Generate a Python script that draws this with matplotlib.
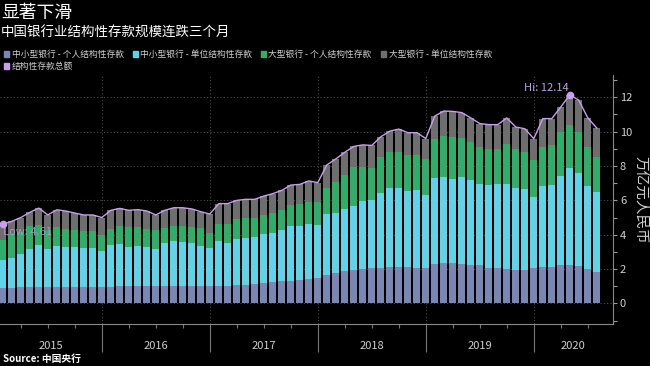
import numpy as np
import pandas as pd
import matplotlib
matplotlib.use('Agg')
import matplotlib.pyplot as plt
from matplotlib.patches import Rectangle
from matplotlib.ticker import FixedLocator
import matplotlib.transforms as mtransforms

plt.rcParams['font.family'] = ['Noto Sans CJK SC', 'DejaVu Sans']

# ---------------- data ----------------
months = pd.date_range('2015-01-31', periods=67, freq='ME')

small_personal = [
    0.90, 0.92, 0.95, 0.95, 0.96, 0.96, 0.97, 0.97, 0.98, 0.98, 0.98, 0.98,
    0.98, 0.99, 0.99, 1.00, 1.00, 1.00, 1.00, 1.00, 1.00, 1.00, 1.00, 1.00,
    1.00, 1.02, 1.05, 1.10, 1.15, 1.20, 1.24, 1.28, 1.32, 1.36, 1.40, 1.45,
    1.63, 1.75, 1.88, 1.94, 1.98, 2.04, 2.08, 2.12, 2.12, 2.12, 2.08, 2.06,
    2.27, 2.35, 2.35, 2.29, 2.21, 2.21, 2.08, 2.06, 2.02, 1.96, 1.96, 2.04,
    2.12, 2.12, 2.21, 2.25, 2.17, 2.02, 1.83]
small_corporate = [
    1.60, 1.74, 1.94, 2.23, 2.42, 2.22, 2.35, 2.31, 2.30, 2.26, 2.26, 2.05,
    2.44, 2.45, 2.29, 2.32, 2.28, 2.18, 2.51, 2.63, 2.60, 2.49, 2.37, 2.25,
    2.63, 2.51, 2.68, 2.73, 2.71, 2.82, 2.88, 2.99, 3.18, 3.14, 3.20, 3.11,
    3.55, 3.53, 3.59, 3.76, 4.00, 3.96, 4.32, 4.61, 4.59, 4.45, 4.52, 4.23,
    5.03, 4.99, 4.91, 5.05, 4.99, 4.76, 4.83, 4.91, 4.93, 4.78, 4.72, 4.13,
    4.70, 4.75, 5.21, 5.63, 5.44, 4.81, 4.66]
large_personal = [
    1.21, 1.40, 1.27, 1.31, 1.18, 1.07, 1.13, 1.07, 0.97, 0.97, 0.95, 0.97,
    0.93, 1.06, 1.18, 1.10, 1.07, 1.07, 0.89, 0.89, 0.92, 0.96, 1.02, 0.85,
    0.97, 1.07, 1.16, 1.12, 1.09, 1.13, 1.16, 1.15, 1.23, 1.27, 1.32, 1.36,
    1.52, 1.78, 1.98, 2.23, 1.99, 1.90, 2.15, 2.07, 2.09, 2.08, 2.07, 2.14,
    2.29, 2.41, 2.41, 2.29, 2.20, 2.14, 2.10, 2.04, 2.35, 2.23, 2.14, 2.16,
    2.29, 2.33, 2.56, 2.49, 2.37, 2.28, 2.03]
large_corporate = [
    0.90, 0.72, 0.84, 0.81, 0.99, 0.90, 1.00, 1.03, 1.01, 0.94, 0.96, 1.00,
    1.07, 1.03, 0.96, 1.04, 1.03, 0.90, 1.02, 1.05, 1.05, 1.05, 0.95, 1.10,
    1.21, 1.21, 1.11, 1.11, 1.11, 1.10, 1.11, 1.16, 1.16, 1.16, 1.21, 1.11,
    1.36, 1.35, 1.35, 1.21, 1.26, 1.30, 1.15, 1.23, 1.35, 1.29, 1.27, 1.17,
    1.32, 1.45, 1.51, 1.48, 1.40, 1.36, 1.40, 1.40, 1.50, 1.30, 1.35, 1.26,
    1.65, 1.56, 1.46, 1.77, 1.85, 1.69, 1.69]
total = [
    4.61, 4.78, 5.00, 5.30, 5.55, 5.15, 5.45, 5.38, 5.26, 5.15, 5.15, 5.00,
    5.42, 5.53, 5.42, 5.46, 5.38, 5.15, 5.42, 5.57, 5.57, 5.50, 5.34, 5.20,
    5.81, 5.81, 6.00, 6.06, 6.06, 6.25, 6.39, 6.58, 6.89, 6.93, 7.13, 7.03,
    8.06, 8.41, 8.80, 9.14, 9.23, 9.20, 9.70, 10.03, 10.15, 9.94, 9.94, 9.60,
    10.91, 11.20, 11.18, 11.11, 10.80, 10.47, 10.41, 10.41, 10.80, 10.27, 10.17, 9.59,
    10.76, 10.76, 11.44, 12.14, 11.83, 10.80, 10.21]

series_names = ['中小型银行 - 个人结构性存款', '中小型银行 - 单位结构性存款',
                '大型银行 - 个人结构性存款', '大型银行 - 单位结构性存款']
total_name = '结构性存款总额'
years = ['2015', '2016', '2017', '2018', '2019', '2020']
yticks = [0, 2, 4, 6, 8, 10, 12]

title = '显著下滑'
subtitle = '中国银行业结构性存款规模连跌三个月'
ylabel = '万亿元人民币'
source = 'Source: 中国央行'

colors = ['#7a86b4', '#5fd3e8', '#2eae68', '#6e6e6e']
line_color = '#c8a0eb'
txt_color = '#cfcfcf'

# ---------------- figure ----------------
W, H = 650, 366
fig = plt.figure(figsize=(W / 100, H / 100), dpi=100, facecolor='black')

def fx(px):
    return px / W

def fy(py):
    return 1 - py / H

ax = fig.add_axes([0, fy(324), fx(613), fy(75) - fy(324)])
ax.set_facecolor('black')

x = np.array((months.year - 2015) * 12 + months.month, dtype=float)

stack = [small_personal, small_corporate, large_personal, large_corporate]
bottom = np.zeros(len(x))
for vals, c in zip(stack, colors):
    ax.bar(x, vals, bottom=bottom, width=0.75, color=c, zorder=3, linewidth=0)
    bottom += np.array(vals)

ax.plot(x, total, color=line_color, lw=1.0, zorder=4)

tot = np.array(total)
i_lo, i_hi = int(np.argmin(tot)), int(np.argmax(tot))
ax.plot([x[i_lo]], [tot[i_lo]], 'o', ms=4.5, color=line_color, zorder=5, clip_on=False)
ax.plot([x[i_hi]], [tot[i_hi]], 'o', ms=4.5, color=line_color, zorder=5)
ax.text(x[i_lo] + 0.05, tot[i_lo] - 0.45, f'Low: {tot[i_lo]:.2f}', color='#b79bd6',
        fontsize=8, ha='left', va='center', zorder=6, alpha=0.85)
ax.text(x[i_hi] - 0.1, tot[i_hi] + 0.42, f'Hi: {tot[i_hi]:.2f}', color='#b9a0e0',
        fontsize=8, ha='right', va='center', zorder=6)

ax.set_xlim(0.69, 68.8)
ax.set_ylim(-1.2, 13.3)

# grid
year_bounds = [12 * k for k in range(1, len(years))]
ax.xaxis.set_major_locator(FixedLocator(year_bounds))
ax.xaxis.set_minor_locator(FixedLocator([12 * k + q for k in range(len(years)) for q in (3, 6, 9)]))
ax.yaxis.set_major_locator(FixedLocator(yticks))
ax.yaxis.set_minor_locator(FixedLocator([-1, 1, 3, 5, 7, 9, 11, 13]))
ax.grid(True, which='major', color='#4a4a4a', lw=0.8, linestyle=(0, (1, 2)), zorder=0)
ax.set_axisbelow(True)

ax.tick_params(axis='x', which='major', length=20, width=0.8, color='#777777',
               labelbottom=False, direction='out')
ax.tick_params(axis='x', which='minor', length=3, width=0.8, color='#777777', direction='out')
ax.yaxis.tick_right()
ax.tick_params(axis='y', which='major', length=3, width=0.8, color='#999999',
               labelcolor=txt_color, labelsize=8, pad=2)
ax.tick_params(axis='y', which='minor', length=3, width=0.8, color='#999999')

for s in ['top', 'left']:
    ax.spines[s].set_visible(False)
for s in ['right', 'bottom']:
    ax.spines[s].set_color('#888888')
    ax.spines[s].set_linewidth(0.8)

ax.yaxis.set_label_position('right')
ax.set_ylabel(ylabel, rotation=270, color=txt_color, fontsize=10.5, labelpad=11)

# year labels centred in visible segments
trans = mtransforms.blended_transform_factory(ax.transData, ax.transAxes)
xl, xr = ax.get_xlim()
for k, yr in enumerate(years):
    a = max(12 * k, xl)
    b = min(12 * (k + 1), xr)
    ax.text((a + b) / 2, -0.088, yr, transform=trans, ha='center', va='center',
            color=txt_color, fontsize=8)

# titles
fig.text(fx(1), fy(13), title, color='white', fontsize=12.8, ha='left', va='center')
fig.text(fx(1), fy(33), subtitle, color='white', fontsize=9.7, ha='left', va='center')

# legend
leg_items = [(4, 54, colors[0], series_names[0]), (133, 54, colors[1], series_names[1]),
             (261, 54, colors[2], series_names[2]), (381, 54, colors[3], series_names[3]),
             (4, 66, line_color, total_name)]
for px, py, c, name in leg_items:
    fig.patches.append(Rectangle((fx(px), fy(py + 2.5)), fx(5), fy(0) - fy(5),
                                 transform=fig.transFigure, color=c, figure=fig))
    fig.text(fx(px + 7.5), fy(py), name, color=txt_color, fontsize=6.3, ha='left', va='center')

fig.text(fx(3), fy(359), source, color='white', fontsize=7, fontweight='bold',
         ha='left', va='center')

fig.savefig('out.png', dpi=100, facecolor='black')
